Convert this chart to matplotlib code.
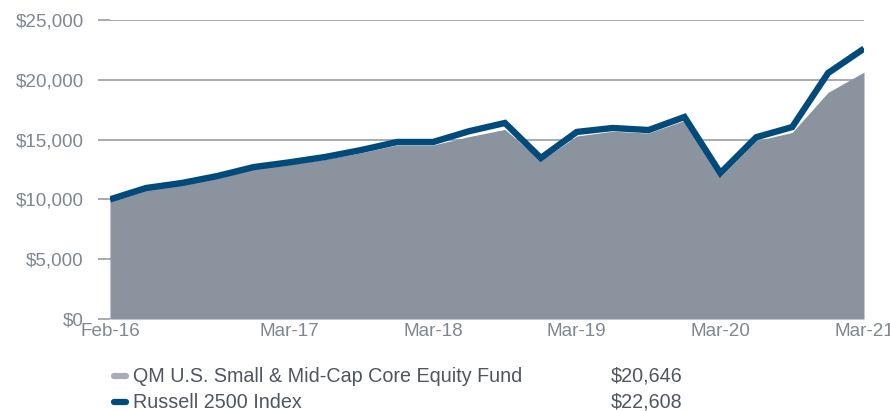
import matplotlib.pyplot as plt
import numpy as np

# quarterly points, Feb-16 through Mar-21
tick_labels = ["Feb-16", "Mar-17", "Mar-18", "Mar-19", "Mar-20", "Mar-21"]
tick_idx = [0, 5, 9, 13, 17, 21]

fund = [10000, 10800, 11250, 11850, 12550, 12950, 13350, 13900, 14550, 14550, 15250,
        15850, 13250, 15300, 15700, 15550, 16600, 11900, 14900, 15600, 18950, 20646]
russell = [10000, 10950, 11370, 11960, 12700, 13100, 13550, 14130, 14800, 14800, 15700,
           16390, 13460, 15640, 15970, 15800, 16890, 12200, 15200, 16050, 20570, 22608]

fund_name = "QM U.S. Small & Mid-Cap Core Equity Fund"
russell_name = "Russell 2500 Index"

grey_fill = "#8b939e"
navy = "#004b7c"
text_col = "#7f8790"
grid_col = "#979ca4"

plt.rcParams['font.family'] = ['Liberation Sans', 'DejaVu Sans']

fig = plt.figure(figsize=(8.9, 4.11), dpi=100)
ax = fig.add_axes([110 / 890, 1 - 319 / 411, (864 - 110) / 890, (319 - 20) / 411])

x = np.arange(len(fund))
yticks = [0, 5000, 10000, 15000, 20000, 25000]
for yt in yticks:
    ax.axhline(yt, color=grid_col, lw=1.2, zorder=0)

ax.fill_between(x, 0, fund, color=grey_fill, lw=0, zorder=1)
ax.plot(x, russell, color=navy, lw=4.6, solid_capstyle='butt', solid_joinstyle='miter', zorder=3)

ax.set_xlim(0, len(fund) - 1)
ax.set_ylim(0, 25000)
ax.set_yticks(yticks)
ax.set_yticklabels([f"${v:,}" for v in yticks])
ax.set_xticks(tick_idx)
ax.set_xticklabels(tick_labels)
ax.tick_params(axis='y', length=9, width=1.2, color=grid_col, labelcolor=text_col, labelsize=13.6, pad=10)
ax.tick_params(axis='x', length=0, labelcolor=text_col, labelsize=13.6, pad=3)
for s in ax.spines.values():
    s.set_visible(False)
ax.set_facecolor('none')

# legend drawn by hand
leg_y = [376 / 411, 402 / 411]
for yy, col, name, val in [(leg_y[0], "#a7adb5", fund_name, "$20,646"),
                           (leg_y[1], navy, russell_name, "$22,608")]:
    fy = 1 - yy
    fig.add_artist(plt.Line2D([114 / 890, 126 / 890], [fy, fy], color=col, lw=4.5,
                              solid_capstyle='round', transform=fig.transFigure))
    fig.text(133 / 890, fy, name, color="#50565d", fontsize=14.2, va='center')
    fig.text(611 / 890, fy, val, color="#50565d", fontsize=14.2, va='center')

fig.savefig("out.png", dpi=100)
